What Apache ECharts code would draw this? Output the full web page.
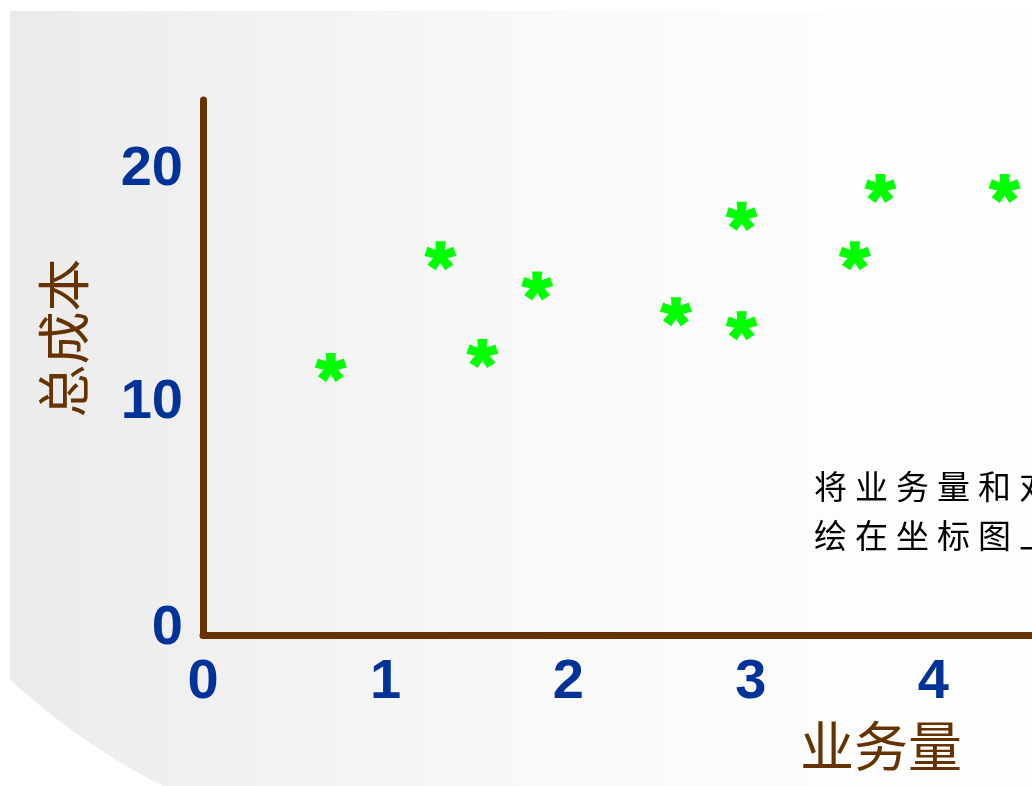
<!DOCTYPE html>
<html>
<head>
<meta charset="utf-8">
<script src="https://cdn.jsdelivr.net/npm/echarts@6/dist/echarts.min.js"></script>
<style>
  html, body { margin: 0; padding: 0; background: #fff; }
  #main { width: 1032px; height: 786px; }
</style>
</head>
<body>
<div id="main"></div>
<script>
// 业务量 / 总成本
const volume = [0.70, 1.30, 1.53, 1.83, 2.59, 2.95, 2.95, 3.57, 3.71, 4.39];
const totalCost = [11.5, 16.3, 12.1, 15.0, 13.9, 18.0, 13.3, 16.3, 19.2, 19.2];
const xTicks = [0, 1, 2, 3, 4];
const yTicks = [0, 10, 20];
const xName = '业务量';
const yName = '总成本';
const noteLines = ['将业务量和对应的总成本', '绘在坐标图上'];

const brown = '#663300';
const blue = '#003399';

// 星号标记（五个臂）
function asteriskPath() {
  const L = 15, w0 = 4, w1 = 5;
  let d = '';
  for (let k = 0; k < 5; k++) {
    const a = k * Math.PI * 2 / 5;
    const dx = Math.sin(a), dy = -Math.cos(a);
    const px = Math.cos(a), py = Math.sin(a);
    const pts = [
      [px * w0, py * w0],
      [dx * L + px * w1, dy * L + py * w1],
      [dx * L - px * w1, dy * L - py * w1],
      [-px * w0, -py * w0]
    ];
    d += 'M' + pts.map(p => p[0].toFixed(2) + ' ' + p[1].toFixed(2)).join('L') + 'Z';
  }
  return 'path://' + d;
}

// 左下角白色弧形
function cornerPoints() {
  const cx = 477.5, cy = 172, r = 690;
  const pts = [[0, 680]];
  const a0 = Math.atan2(680 - cy, 10 - cx);
  const a1 = Math.atan2(790 - cy, 165 - cx);
  for (let i = 0; i <= 30; i++) {
    const a = a0 + (a1 - a0) * i / 30;
    pts.push([cx + r * Math.cos(a), cy + r * Math.sin(a)]);
  }
  pts.push([0, 790]);
  return pts;
}

// 注释文字，逐字排开
const noteEls = [];
noteLines.forEach((line, i) => {
  Array.from(line).forEach((ch, j) => {
    noteEls.push({
      type: 'text', z: 10,
      x: 814 + j * 41, y: 486 + i * 49,
      style: {
        text: ch, fill: '#000', font: '33px "Noto Sans CJK SC"',
        textVerticalAlign: 'middle'
      }
    });
  });
});

const chart = echarts.init(document.getElementById('main'));

const option = {
  backgroundColor: '#ffffff',
  animation: false,
  graphic: {
    elements: [
      {
        type: 'rect', z: -10,
        shape: { x: 10, y: 11, width: 1100, height: 800 },
        style: {
          fill: {
            type: 'linear', x: 0, y: 0, x2: 1, y2: 0,
            colorStops: [
              { offset: 0, color: '#ebebeb' },
              { offset: 0.45, color: '#f8f8f8' },
              { offset: 0.75, color: '#fdfdfd' },
              { offset: 1, color: '#ffffff' }
            ]
          }
        }
      },
      {
        type: 'polygon', z: -9,
        shape: { points: cornerPoints() },
        style: { fill: '#ffffff' }
      },
      {
        type: 'text', z: 10,
        x: 64, y: 338, rotation: Math.PI / 2,
        style: {
          text: yName, fill: brown, font: '53px "Noto Sans CJK SC"',
          textAlign: 'center', textVerticalAlign: 'middle'
        }
      },
      {
        type: 'text', z: 10,
        x: 881, y: 746,
        style: {
          text: xName, fill: brown, font: '54px "Noto Sans CJK SC"',
          textAlign: 'center', textVerticalAlign: 'middle'
        }
      }
    ].concat(noteEls)
  },
  grid: { left: 203, right: 0, top: 100, bottom: 151, containLabel: false },
  xAxis: {
    type: 'value', min: 0, max: 4.54, interval: 1,
    axisLine: { show: true, lineStyle: { color: brown, width: 7 } },
    axisTick: { show: false },
    splitLine: { show: false },
    axisLabel: {
      customValues: xTicks,
      color: blue, fontSize: 56, fontWeight: 'bold',
      fontFamily: '"Liberation Sans", Arial, sans-serif',
      margin: 20
    }
  },
  yAxis: {
    type: 'value', min: 0, max: 23, interval: 10,
    axisLine: { show: true, lineStyle: { color: brown, width: 7 } },
    axisTick: { show: false },
    splitLine: { show: false },
    axisLabel: {
      customValues: yTicks,
      color: blue, fontSize: 56, fontWeight: 'bold',
      fontFamily: '"Liberation Sans", Arial, sans-serif',
      margin: 20,
      formatter: v => (v === 0 ? '{z|0}' : String(v)),
      rich: {
        z: {
          color: blue, fontSize: 56, fontWeight: 'bold',
          fontFamily: '"Liberation Sans", Arial, sans-serif',
          padding: [0, 0, 12, 0]
        }
      }
    }
  },
  series: [
    {
      type: 'scatter',
      data: volume.map((x, i) => [x, totalCost[i]]),
      symbol: asteriskPath(),
      symbolSize: [32, 29],
      itemStyle: { color: '#00ff00', opacity: 1 },
      z: 5
    }
  ]
};

chart.setOption(option);
</script>
</body>
</html>
